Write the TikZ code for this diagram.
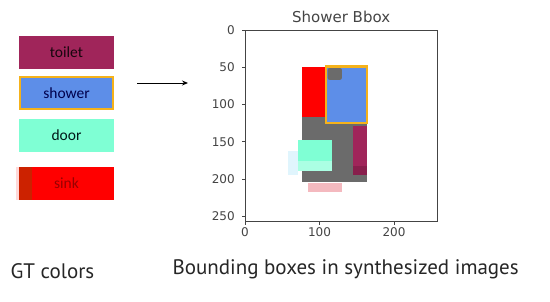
\documentclass[tikz,border=0pt]{standalone}
\usepackage{fontspec}
\usetikzlibrary{arrows.meta}
\setmainfont{Carlito}
\newfontfamily\plotfont{DejaVu Sans}
\newfontfamily\capfont{PT Sans}
\definecolor{toiletc}{HTML}{A0255A}
\definecolor{showerc}{HTML}{5D8EE8}
\definecolor{orangec}{HTML}{F5B21A}
\definecolor{doorc}{HTML}{7FFFD4}
\definecolor{sinkc}{HTML}{FF0000}
\definecolor{sinkdark}{HTML}{CC2200}
\definecolor{grayc}{HTML}{6B6B6B}
\definecolor{pinkc}{HTML}{F4B9BF}
\definecolor{axc}{HTML}{444444}
\tikzset{
  legbox/.style={minimum width=95pt, minimum height=33pt, inner sep=0pt, font=\fontsize{15.5}{17}\selectfont},
  ticklab/.style={font=\plotfont\fontsize{12}{13}\selectfont, text=axc},
  caption/.style={font=\capfont\fontsize{21}{23}\selectfont, text=black!85},
}
\begin{document}
\begin{tikzpicture}[x=1pt,y=-1pt]
\useasboundingbox (0,0) rectangle (550,302);
% legend
\node[legbox, fill=toiletc, text=black!85!toiletc] (toilet) at (66.5,52.5) {toilet};
\node[legbox, fill=showerc, draw=orangec, line width=2.5pt, minimum width=93pt, minimum height=32pt, text=black!70!blue] (shower) at (66.5,93) {shower};
\node[legbox, fill=doorc, text=black!80!teal] (door) at (66.5,135.5) {door};
\fill[pink!60] (16,167) rectangle (19,200);
\fill[sinkc] (19,167) rectangle (114,200);
\fill[sinkdark] (19,167) rectangle (32,200);
\node[legbox, text=red!60!black] (sink) at (66.5,183.5) {sink};
% arrow
\coordinate (a1) at (137,83);
\coordinate (a2) at (188,83);
\draw[-{Stealth[length=6pt,width=5pt]}, line width=0.9pt] (a1) -- (a2);
% plot
\begin{scope}[shift={(245,30)}, x=0.745pt, y=-0.745pt]
  \fill[grayc] (76,117) rectangle (164,204);
  \fill[sinkc] (76,49) rectangle (109,117);
  \fill[showerc] (109,49) rectangle (164,125);
  \fill[grayc, rounded corners=2pt] (111,51) rectangle (130,67);
  \draw[orangec, line width=2.2pt] (109,49) rectangle (164,125);
  \fill[toiletc] (144.5,129) rectangle (164,195);
  \fill[toiletc!85!black] (144.5,182) rectangle (164,195);
  \fill[cyan!12] (58,163) rectangle (71,195);
  \fill[doorc] (71,147) rectangle (117,189);
  \fill[white, opacity=0.35] (71,176) rectangle (117,189);
  \fill[pinkc] (84,205) rectangle (130,218);
  \draw[axc, line width=0.8pt] (0,0) rectangle (258,257);
  \foreach \v in {0,50,...,250} {
    \draw[axc, line width=0.8pt] (0,\v) -- ++(-4.5,0);
    \node[ticklab, anchor=east, name=yt\v] at (-9,\v) {\v};
  }
  \foreach \v in {0,100,200} {
    \draw[axc, line width=0.8pt] (\v,257) -- ++(0,4.5);
    \node[ticklab, anchor=north, name=xt\v] at (\v,261) {\v};
  }
  \node[font=\plotfont\fontsize{15}{16}\selectfont, text=axc, anchor=base] (title) at (129,-10) {Shower Bbox};
\end{scope}
% captions
\node[caption, anchor=west] (gt) at (7,271) {GT colors};
\node[caption, anchor=west] (bb) at (169,269) {Bounding boxes in synthesized images};
\end{tikzpicture}
\end{document}
